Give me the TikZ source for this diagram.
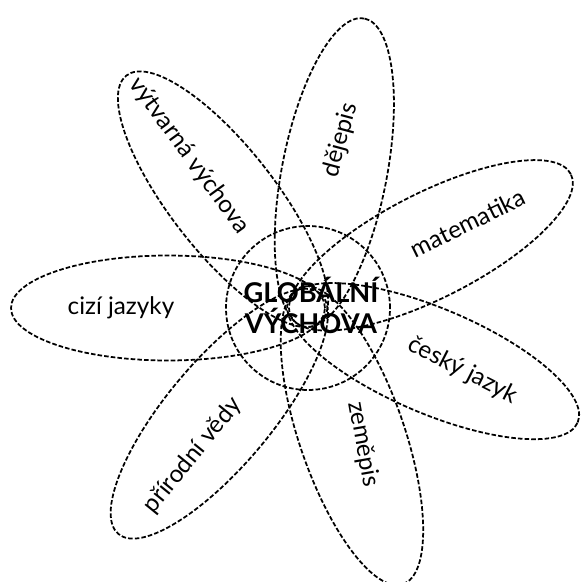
\documentclass[tikz,border=0pt]{standalone}
\usepackage{fontspec}
\setmainfont{Lato}
\usetikzlibrary{shapes.geometric}
\tikzset{
  rough/.style={line width=1pt, dash pattern=on 2.6pt off 1.2pt},
  petal/.style={draw, rough, ellipse, inner sep=0pt,
    minimum width=6.28cm, minimum height=2.1cm},
  hub/.style={draw, rough, circle, inner sep=0pt, minimum size=3.28cm},
  subject/.style={inner sep=1pt, font=\fontsize{13.8}{16}\selectfont},
  hubtext/.style={align=center, inner sep=0pt,
    font=\fontsize{15.5}{17.6}\selectfont\bfseries}
}
\begin{document}
\begin{tikzpicture}[x=0.02cm, y=0.02cm]
  \useasboundingbox (-308,-274) rectangle (273,308);
  % petals
  \node[petal, rotate=0] (cizi) at (180:140) {};
  \node[petal, rotate=-52] (vytvarna) at (128:138) {};
  \node[petal, rotate=79] (dejepis) at (79:138) {};
  \node[petal, rotate=27] (matematika) at (27:138) {};
  \node[petal, rotate=-23] (cesky) at (-23:136) {};
  \node[petal, rotate=-71] (zemepis) at (-71:135) {};
  \node[petal, rotate=50] (prirodni) at (-130:138) {};
  % centre
  \node[hub] (globalni) at (0,0) {};
  \node[hubtext] (globalnitext) at (3,3) {GLOBÁLNÍ\\VÝCHOVA};
  % subjects
  \node[subject] (cizilbl) at (180:187) {cizí jazyky};
  \node[subject, rotate=-54] (vytvarnalbl) at (128:193) {výtvarná výchova};
  \node[subject, rotate=75] (dejepislbl) at (79:171) {dějepis};
  \node[subject, rotate=26] (matematikalbl) at (28:181) {matematika};
  \node[subject, rotate=-27] (ceskylbl) at (-22:167) {český jazyk};
  \node[subject, rotate=-80] (zemepislbl) at (-68:147) {zeměpis};
  \node[subject, rotate=51] (prirodnilbl) at (-128:187) {přírodní vědy};
\end{tikzpicture}
\end{document}
